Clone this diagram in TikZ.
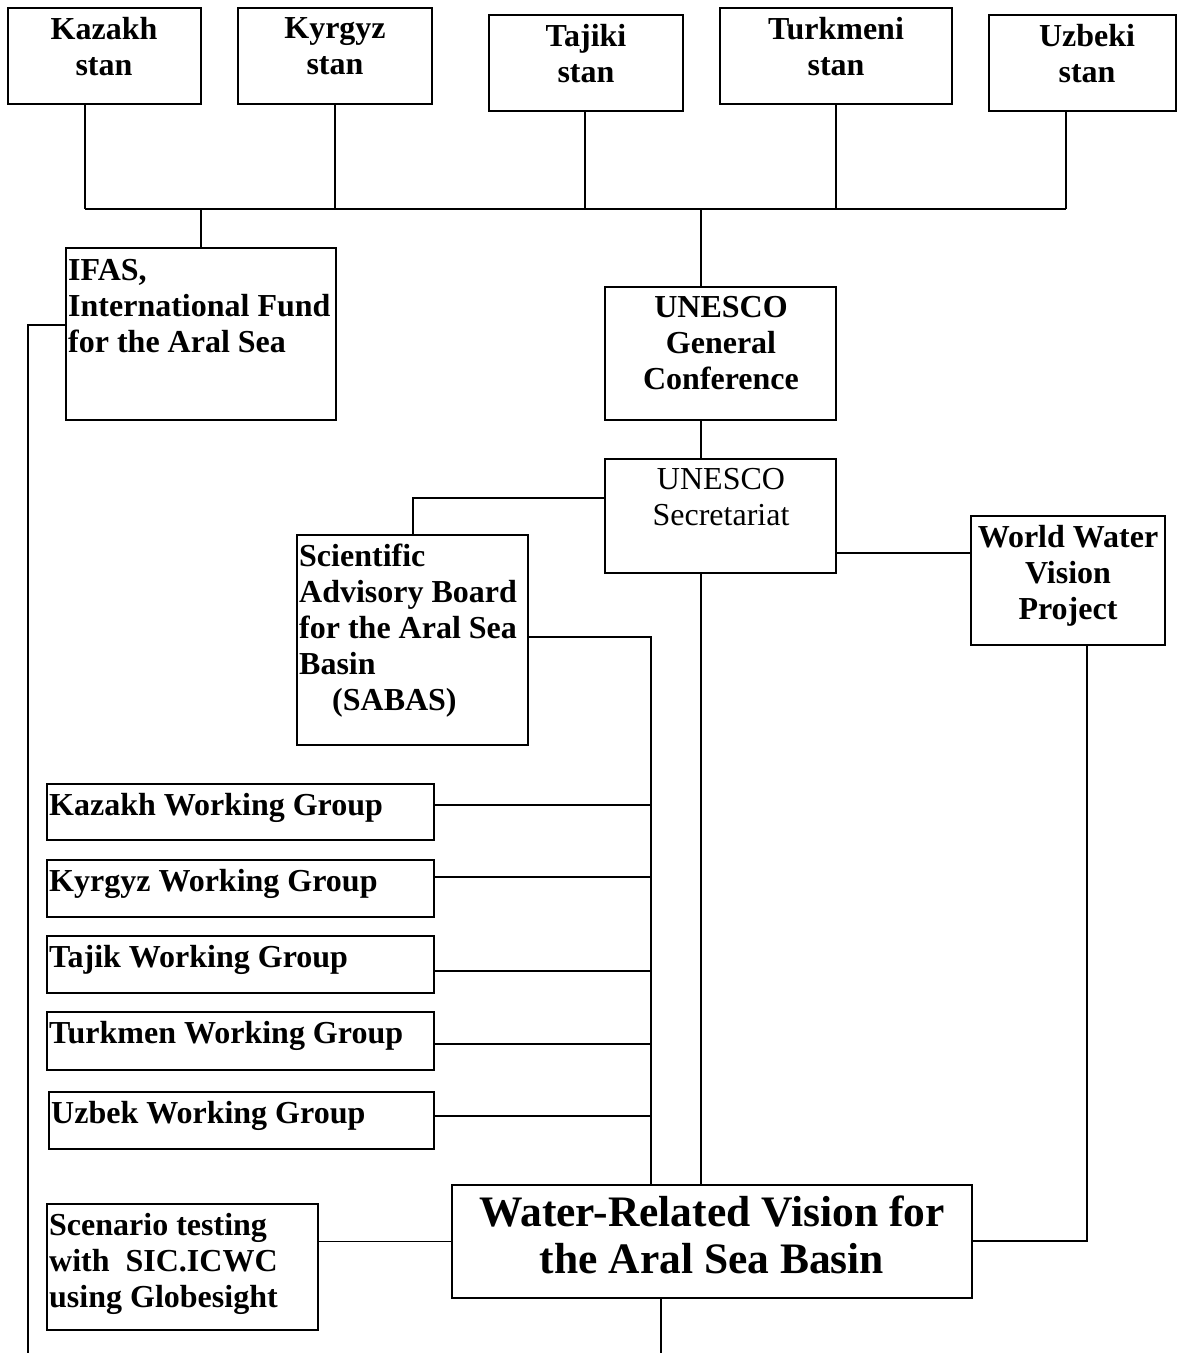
\documentclass[tikz,border=0pt]{standalone}
\usepackage{fontspec}
\setmainfont{Liberation Serif}
\usetikzlibrary{fit,calc}
\begin{document}
\begin{tikzpicture}[x=1pt,y=-1pt]
\tikzset{
 frame/.style={draw, line width=1.8pt, inner sep=0pt},
 conn/.style={line width=1.8pt},
 lbl/.style={inner sep=0pt, font=\bfseries\fontsize{32}{36}\selectfont},
 lblr/.style={inner sep=0pt, font=\fontsize{32}{36}\selectfont},
 lblbig/.style={inner sep=0pt, font=\bfseries\fontsize{43.5}{47}\selectfont},
}
\useasboundingbox (0,0) rectangle (1177,1353);
% boxes
\node[frame, fit={(8,8) (201,104)}] (kaz) {};
\node[frame, fit={(238,8) (432,104)}] (kyr) {};
\node[frame, fit={(489,15) (683,111)}] (taj) {};
\node[frame, fit={(720,8) (952,104)}] (tur) {};
\node[frame, fit={(989,15) (1176,111)}] (uzb) {};
\node[frame, fit={(66,248) (336,420)}] (ifas) {};
\node[frame, fit={(605,287) (836,420)}] (gc) {};
\node[frame, fit={(605,459) (836,573)}] (sec) {};
\node[frame, fit={(297,535) (528,745)}] (sab) {};
\node[frame, fit={(971,516) (1165,645)}] (wwv) {};
\node[frame, fit={(47,784) (434,840)}] (wg1) {};
\node[frame, fit={(47,860) (434,917)}] (wg2) {};
\node[frame, fit={(47,936) (434,993)}] (wg3) {};
\node[frame, fit={(47,1012) (434,1070)}] (wg4) {};
\node[frame, fit={(49,1092) (434,1149)}] (wg5) {};
\node[frame, fit={(47,1204) (318,1330)}] (scen) {};
\node[frame, fit={(452,1185) (972,1298)}] (vis) {};
% texts
\node[lbl, anchor=north, align=center] (kazT) at (104,17) {Kazakh\\stan};
\node[lbl, anchor=north, align=center] (kyrT) at (335,17) {Kyrgyz\\stan};
\node[lbl, anchor=north, align=center] (tajT) at (586,24) {Tajiki\\stan};
\node[lbl, anchor=north, align=center] (turT) at (836,17) {Turkmeni\\stan};
\node[lbl, anchor=north, align=center] (uzbT) at (1087,24) {Uzbeki\\stan};
\node[lbl, anchor=north west, align=left] (ifasT) at (68,259) {IFAS,\\International Fund\\for the Aral Sea};
\node[lbl, anchor=north, align=center] (gcT) at (721,296) {UNESCO\\General\\Conference};
\node[lblr, anchor=north, align=center] (secT) at (721,468) {UNESCO\\Secretariat};
\node[lbl, anchor=north west, align=left] (sabT) at (299,544) {Scientific\\Advisory Board\\for the Aral Sea\\Basin\\\hspace*{33pt}(SABAS)};
\node[lbl, anchor=north, align=center] (wwvT) at (1068,525) {World Water\\Vision\\Project};
\node[lbl, anchor=north west] (wg1T) at (49,793) {Kazakh Working Group};
\node[lbl, anchor=north west] (wg2T) at (49,869) {Kyrgyz Working Group};
\node[lbl, anchor=north west] (wg3T) at (49,945) {Tajik Working Group};
\node[lbl, anchor=north west] (wg4T) at (49,1021) {Turkmen Working Group};
\node[lbl, anchor=north west] (wg5T) at (51,1101) {Uzbek Working Group};
\node[lbl, anchor=north west, align=left] (scenT) at (49,1213) {Scenario testing\\with\ \ SIC.ICWC\\using Globesight};
\node[lblbig, anchor=north, align=center] (visT) at (712,1196) {Water-Related Vision for\\the Aral Sea Basin};
% junction coordinates
\coordinate (xKaz) at (85,209);
\coordinate (xKyr) at (335,209);
\coordinate (xTaj) at (585,209);
\coordinate (xTur) at (836,209);
\coordinate (xUzb) at (1066,209);
\coordinate (xU) at (701,209);
\coordinate (sabJ) at (413,498);
\coordinate (wwJ) at (900,553);
\coordinate (busV) at (651,637);
\coordinate (j1) at (651,805);
\coordinate (j2) at (651,877);
\coordinate (j3) at (651,971);
\coordinate (j4) at (651,1044);
\coordinate (j5) at (651,1116);
\coordinate (wwB) at (1087,1241);
\coordinate (visB) at (661,1353);
\coordinate (ifJ) at (28,325);
\coordinate (ifB) at (28,1353);
% connectors
\draw[conn] (kaz.south -| xKaz) -- (xKaz);
\draw[conn] (kyr.south -| xKyr) -- (xKyr);
\draw[conn] (taj.south -| xTaj) -- (xTaj);
\draw[conn] (tur.south -| xTur) -- (xTur);
\draw[conn] (uzb.south -| xUzb) -- (xUzb);
\draw[conn] (xKaz) -- (xUzb);
\draw[conn] (ifas.north) -- (ifas.north |- xKaz);
\draw[conn] (xU) -- (gc.north -| xU);
\draw[conn] (gc.south -| xU) -- (sec.north -| xU);
\draw[conn] (sec.south -| xU) -- (vis.north -| xU);
\draw[conn] (sec.west |- sabJ) -- (sabJ) -- (sab.north -| sabJ);
\draw[conn] (sec.east |- wwJ) -- (wwv.west |- wwJ);
\draw[conn] (sab.east |- busV) -- (busV) -- (vis.north -| busV);
\draw[conn] (wg1.east |- j1) -- (j1);
\draw[conn] (wg2.east |- j2) -- (j2);
\draw[conn] (wg3.east |- j3) -- (j3);
\draw[conn] (wg4.east |- j4) -- (j4);
\draw[conn] (wg5.east |- j5) -- (j5);
\draw[conn] (wwv.south -| wwB) -- (wwB) -- (vis.east |- wwB);
\draw[conn] (vis.west) -- (vis.west -| scen.east);
\draw[conn] (vis.south -| visB) -- (visB);
\draw[conn] (ifas.west |- ifJ) -- (ifJ) -- (ifB);
\end{tikzpicture}
\end{document}
